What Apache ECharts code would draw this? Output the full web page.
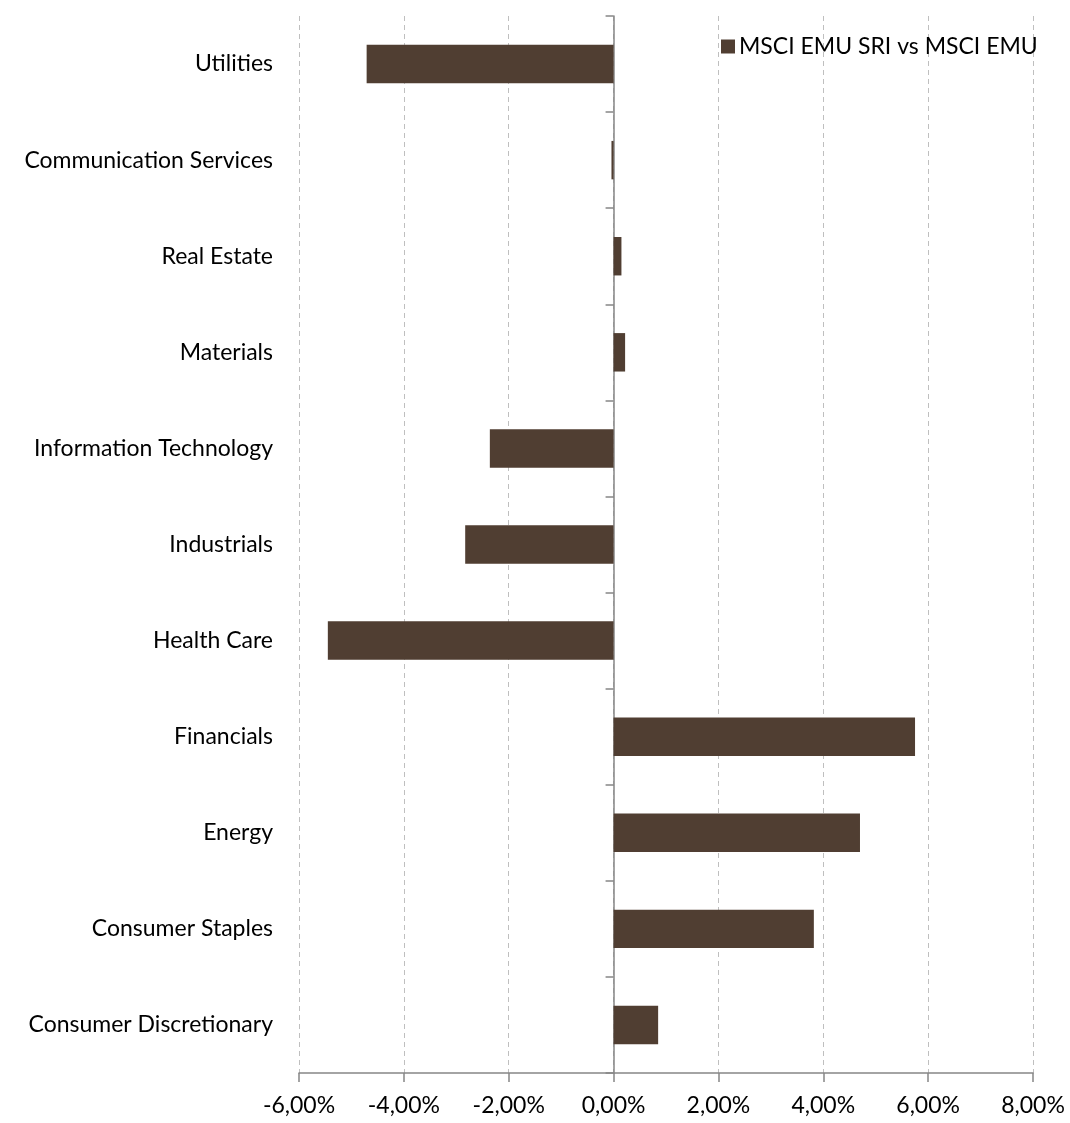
<!DOCTYPE html>
<html>
<head>
<meta charset="utf-8">
<script src="https://cdn.jsdelivr.net/npm/echarts@6/dist/echarts.min.js"></script>
<style>
    html, body { margin: 0; padding: 0; background: #fff; }
    #chart { width: 1070px; height: 1123px; }
</style>
</head>
<body>
<div id="chart"></div>
<script>
// sectors, bottom to top as drawn by the category axis
const categories = ['Consumer Discretionary', 'Consumer Staples', 'Energy', 'Financials', 'Health Care',
    'Industrials', 'Information Technology', 'Materials', 'Real Estate', 'Communication Services', 'Utilities'];
// active weight, in %
const activeWeights = [0.85, 3.82, 4.70, 5.75, -5.45, -2.83, -2.36, 0.22, 0.15, -0.04, -4.71];
const seriesName = 'MSCI EMU SRI vs MSCI EMU';
const xTicks = [-6, -4, -2, 0, 2, 4, 6, 8];

const font = 'Lato, "Open Sans", sans-serif';
const axisGrey = '#868686';

var myChart = echarts.init(document.getElementById('chart'));

var options = {
    animation: false,
    textStyle: { fontFamily: font },
    legend: {
        data: [seriesName],
        left: 716,
        top: 30,
        itemWidth: 14,
        itemHeight: 14,
        itemGap: 6,
        icon: 'rect',
        textStyle: { fontSize: 23, color: '#000', fontFamily: font, padding: [0, 0, 0, -1] }
    },
    grid: {
        left: 299,
        right: 37,
        top: 16,
        bottom: 50,
        containLabel: false
    },
    xAxis: {
        type: 'value',
        min: xTicks[0],
        max: xTicks[xTicks.length - 1],
        interval: 2,
        axisLine: { show: true, onZero: false, lineStyle: { color: axisGrey, width: 1.5 } },
        axisTick: { show: true, length: 9, lineStyle: { color: axisGrey, width: 1.5 } },
        splitLine: { show: true, lineStyle: { color: '#bfbfbf', type: [5, 4], width: 1 } },
        axisLabel: {
            color: '#000',
            fontSize: 23,
            margin: 21,
            formatter: v => v.toFixed(2).replace('.', ',') + '%'
        }
    },
    yAxis: [
        {
            // labels only, at the left edge of the plot
            type: 'category',
            data: categories,
            position: 'left',
            axisLine: { show: false, onZero: false },
            axisTick: { show: false },
            axisLabel: { color: '#000', fontSize: 23, margin: 26 }
        },
        {
            // axis line and ticks sitting on zero
            type: 'category',
            data: categories,
            position: 'left',
            axisLine: { show: true, onZero: true, lineStyle: { color: axisGrey, width: 1.5 } },
            axisTick: { show: true, length: 8, lineStyle: { color: axisGrey, width: 1.5 } },
            axisLabel: { show: false }
        }
    ],
    series: [
        {
            name: seriesName,
            type: 'bar',
            yAxisIndex: 0,
            data: activeWeights,
            barCategoryGap: '60%',
            itemStyle: { color: '#503e32' },
            z: 1
        }
    ]
};

myChart.setOption(options);
</script>
</body>
</html>
